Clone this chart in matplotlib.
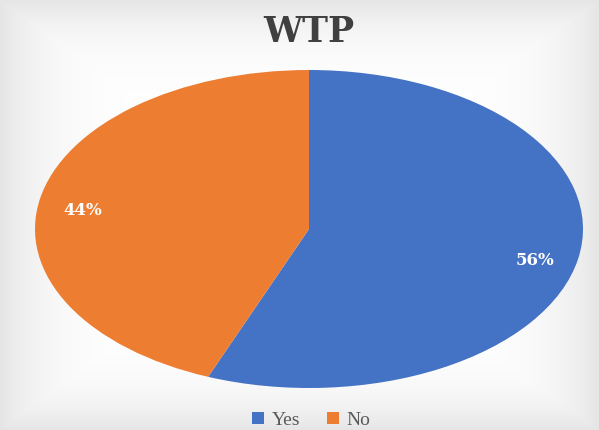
import matplotlib.pyplot as plt
import numpy as np

# WTP pie data
labels = ["Yes", "No"]
shares = [56, 44]
colors = ["#4472C4", "#ED7D31"]

fig = plt.figure(figsize=(5.99, 4.30), dpi=100)

# soft grey-to-white background like the original
yy, xx = np.mgrid[-1:1:430j, -1:1:599j]
bg = 0.90 + 0.10 * np.clip(1 - np.maximum(np.abs(xx), np.abs(yy)) ** 6, 0, 1)
fig.figimage(np.dstack([bg, bg, bg]), xo=0, yo=0, zorder=-10)

ax = fig.add_axes([35 / 599, 42 / 430, 548 / 599, 318 / 430])
ax.patch.set_alpha(0)
wedges, texts, autotexts = ax.pie(
    shares, colors=colors, startangle=90, counterclock=False,
    autopct="%d%%", pctdistance=0.84,
    textprops=dict(color="white", fontsize=12, fontweight="bold",
                   family="DejaVu Serif"),
)
ax.set_aspect("auto")
ax.set_xlim(-1, 1)
ax.set_ylim(-1, 1)
for t in autotexts:
    t.set_y(t.get_position()[1] - 0.04)

fig.text(0.515, 0.925, "WTP", ha="center", va="center", fontsize=25,
         fontweight="bold", family="DejaVu Serif", color="#404040")

fig.legend(wedges, labels, loc="center", bbox_to_anchor=(0.52, 0.022),
           ncol=2, frameon=False, handlelength=0.6, handleheight=0.6,
           handletextpad=0.4, columnspacing=1.4,
           prop=dict(family="Liberation Serif", size=14), labelcolor="#595959")

fig.savefig("out.png", dpi=100)
